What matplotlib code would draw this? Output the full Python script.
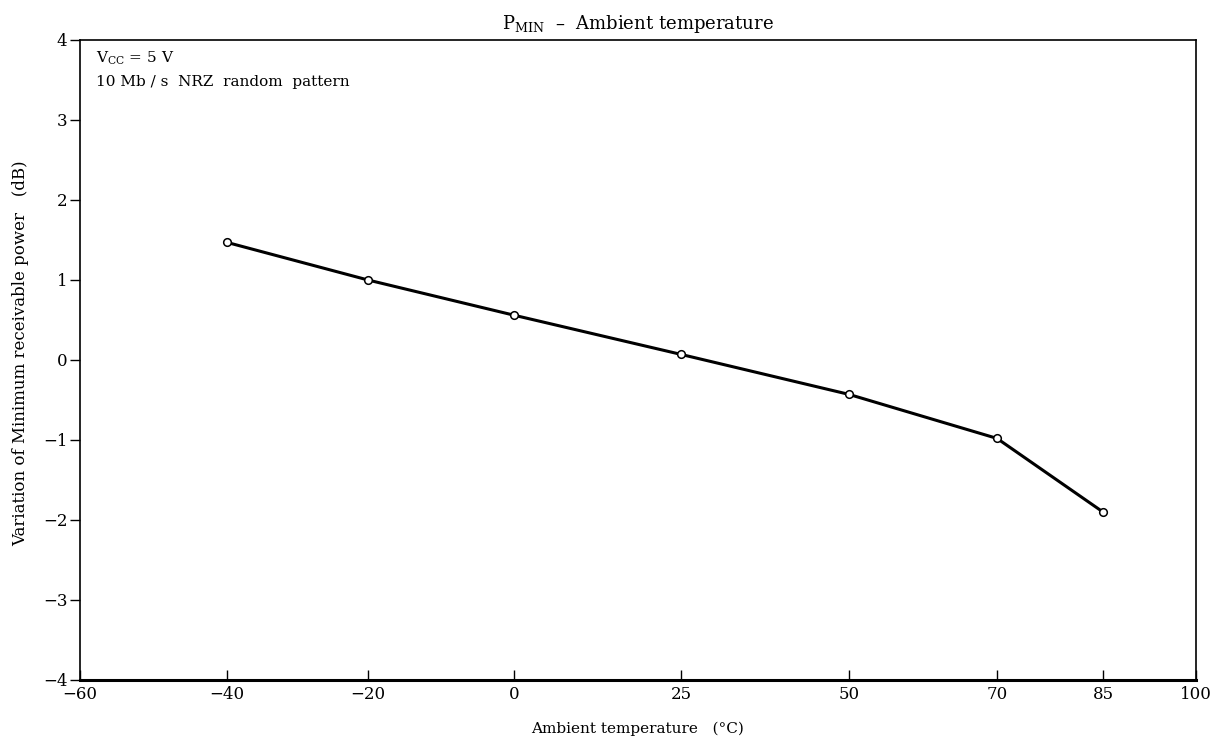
import numpy as np
import matplotlib
matplotlib.use("Agg")
import matplotlib.pyplot as plt
from matplotlib.scale import FuncScale

# ---- data ----
temps = [-40, -20, 0, 25, 50, 70, 85]
variation = [1.47, 1.0, 0.56, 0.07, -0.43, -0.98, -1.9]
xticks = [-60, -40, -20, 0, 25, 50, 70, 85, 100]
yticks = [-4, -3, -2, -1, 0, 1, 2, 3, 4]

# ---- style / layout ----
plt.rcParams['font.family'] = ['DejaVu Serif']
plt.rcParams['mathtext.fontset'] = 'dejavuserif'
# non-uniform axis spacing as printed in the original (relative positions of ticks)
tick_pos = np.array([80, 227, 368, 514, 681, 849, 997, 1103, 1196], dtype=float)
tick_val = np.array(xticks, dtype=float)

def fwd(x):
    return np.interp(x, tick_val, tick_pos)

def inv(p):
    return np.interp(p, tick_pos, tick_val)

fig = plt.figure(figsize=(12.2, 7.45), dpi=100)
ax = fig.add_axes([80/1220, 1 - 680/745, (1196-80)/1220, (680-40)/745])
ax.set_xscale(FuncScale(ax, (fwd, inv)))
ax.plot(temps, variation, color='black', lw=2.2, zorder=2)
ax.plot(temps, variation, 'o', ms=5.5, mfc='white', mec='black', mew=1.1, zorder=3)

ax.set_xlim(-60, 100)
ax.set_ylim(-4, 4)
ax.set_xticks(xticks)
ax.set_xticklabels([f"{t}".replace('-', '\u2212') for t in xticks])
ax.set_yticks(yticks)
ax.set_yticklabels([f"{t}".replace('-', '\u2212') for t in yticks])
ax.xaxis.set_minor_locator(matplotlib.ticker.NullLocator())
ax.tick_params(axis='x', direction='in', length=7, width=1, labelsize=12, pad=4)
ax.tick_params(axis='y', direction='out', length=7, width=1, labelsize=12, pad=2)
for s in ['top', 'right', 'left']:
    ax.spines[s].set_linewidth(1.2)
ax.spines['bottom'].set_linewidth(2.2)

ax.set_title(r"P$_{\rm MIN}$  –  Ambient temperature", fontsize=13, pad=8)
ax.set_xlabel("Ambient temperature   (°C)", fontsize=11, labelpad=14)
ax.set_ylabel("Variation of Minimum receivable power   (dB)", fontsize=12, labelpad=12)
ax.yaxis.set_label_coords(-0.046, 0.51)

ax.text(0.014, 0.985, r"V$_{\rm CC}$ = 5 V", transform=ax.transAxes, fontsize=11,
        va='top', ha='left')
ax.text(0.014, 0.945, "10 Mb / s  NRZ  random  pattern", transform=ax.transAxes,
        fontsize=11, va='top', ha='left')

fig.savefig("out.png", dpi=100)
